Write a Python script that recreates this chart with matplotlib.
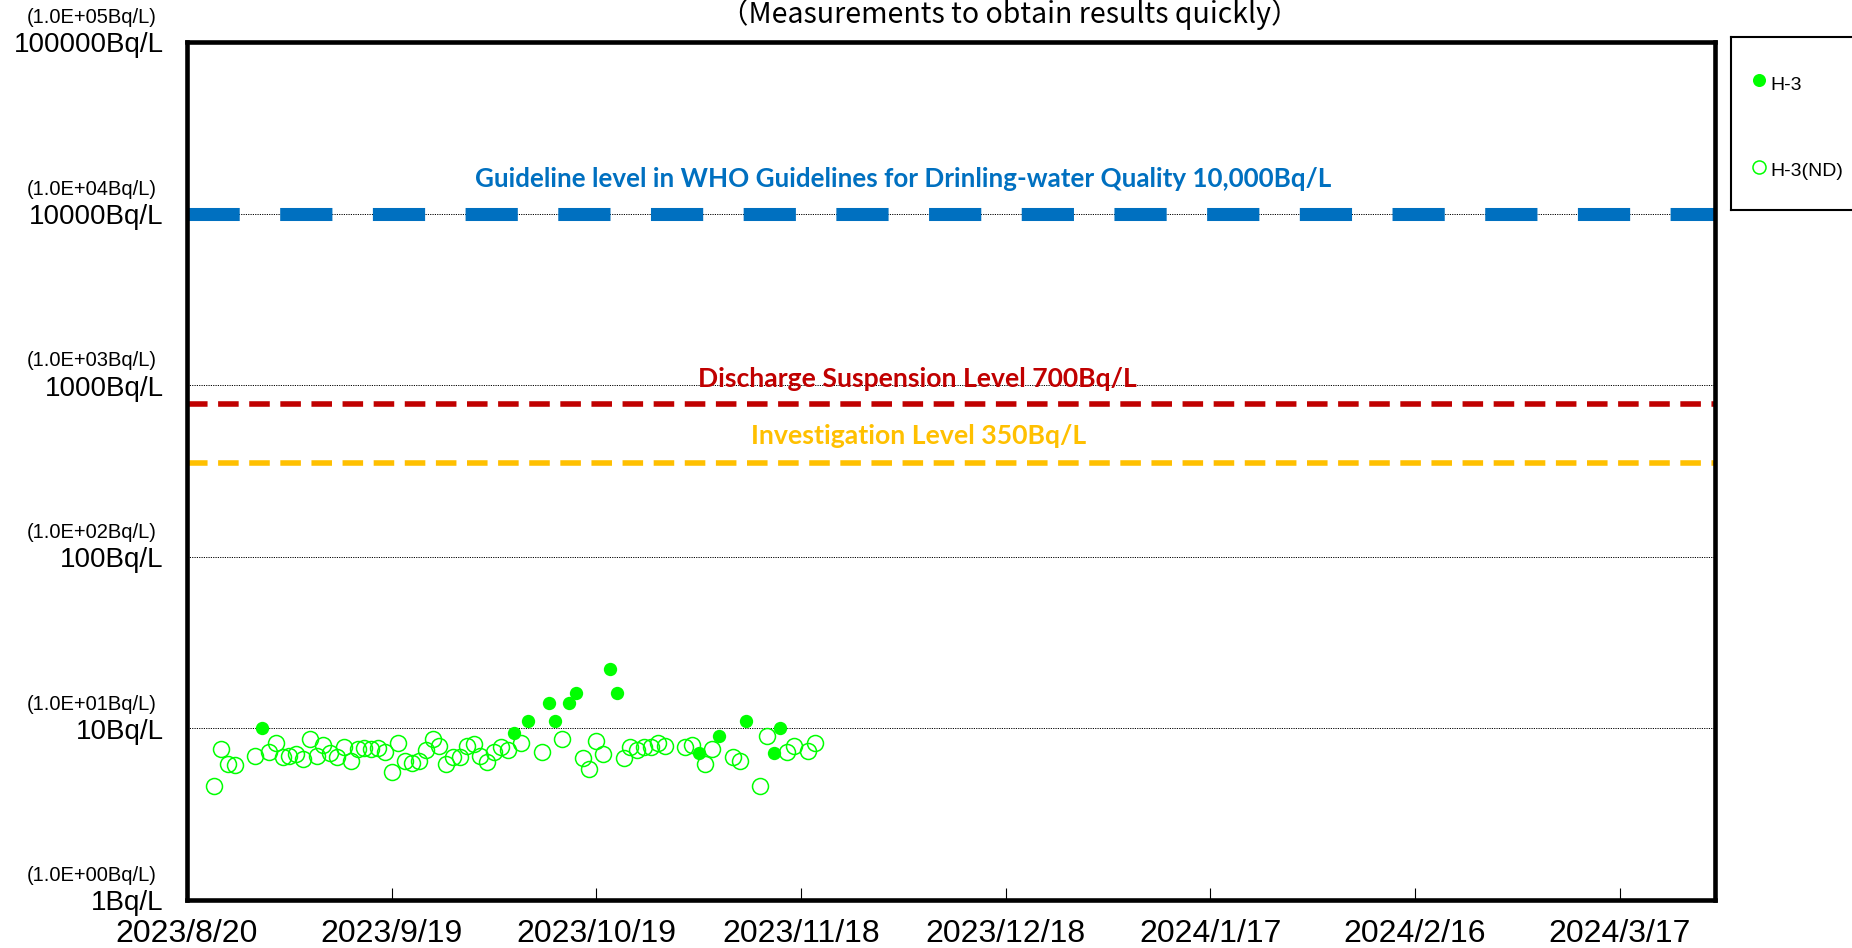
import matplotlib
matplotlib.use("Agg")
import matplotlib.pyplot as plt
import pandas as pd

# ---- data ----
# H-3 detected values [Bq/L]
h3_dates = ["2023-08-31", "2023-10-07", "2023-10-09", "2023-10-12", "2023-10-13",
            "2023-10-15", "2023-10-16", "2023-10-21", "2023-10-22", "2023-11-03",
            "2023-11-06", "2023-11-10", "2023-11-14", "2023-11-15"]
h3_values = [10.0, 9.4, 11.0, 14.1, 11.0, 14.0, 16.0, 22.1, 16.0, 7.2,
             9.0, 11.0, 7.2, 10.0]

# H-3 below detection limit (ND) -> detection limit plotted
nd_dates = ["2023-08-24", "2023-08-25", "2023-08-26", "2023-08-27", "2023-08-30",
            "2023-09-01", "2023-09-02", "2023-09-03", "2023-09-04", "2023-09-05",
            "2023-09-06", "2023-09-07", "2023-09-08", "2023-09-09", "2023-09-10",
            "2023-09-11", "2023-09-12", "2023-09-13", "2023-09-14", "2023-09-15",
            "2023-09-16", "2023-09-17", "2023-09-18", "2023-09-19", "2023-09-20",
            "2023-09-21", "2023-09-22", "2023-09-23", "2023-09-24", "2023-09-25",
            "2023-09-26", "2023-09-27", "2023-09-28", "2023-09-29", "2023-09-30",
            "2023-10-01", "2023-10-02", "2023-10-03", "2023-10-04", "2023-10-05",
            "2023-10-06", "2023-10-08", "2023-10-11", "2023-10-14", "2023-10-17",
            "2023-10-18", "2023-10-19", "2023-10-20", "2023-10-23", "2023-10-24",
            "2023-10-25", "2023-10-26", "2023-10-27", "2023-10-28", "2023-10-29",
            "2023-11-01", "2023-11-02", "2023-11-04", "2023-11-05", "2023-11-08",
            "2023-11-09", "2023-11-12", "2023-11-13", "2023-11-16", "2023-11-17",
            "2023-11-19", "2023-11-20"]
nd_values = [4.6, 7.6, 6.2, 6.1, 6.9,
             7.3, 8.2, 6.8, 6.9, 7.1,
             6.6, 8.7, 6.9, 8.0, 7.2,
             6.8, 7.8, 6.5, 7.6, 7.7,
             7.6, 7.7, 7.3, 5.6, 8.2,
             6.5, 6.3, 6.5, 7.5, 8.7,
             7.9, 6.2, 6.8, 6.8, 7.9,
             8.1, 6.9, 6.4, 7.3, 7.8,
             7.5, 8.2, 7.3, 8.7, 6.7,
             5.8, 8.5, 7.1, 6.7, 7.8,
             7.5, 7.8, 7.8, 8.2, 7.9,
             7.8, 8.0, 6.2, 7.6, 6.8,
             6.5, 4.6, 9.0, 7.3, 7.9,
             7.4, 8.2]

# reference levels
level_values = [10000, 780, 350]
level_texts = ["Guideline level in WHO Guidelines for Drinling-water Quality 10,000Bq/L",
               "Discharge Suspension Level 700Bq/L",
               "Investigation Level 350Bq/L"]

x_tick_dates = ["2023-08-20", "2023-09-19", "2023-10-19", "2023-11-18",
                "2023-12-18", "2024-01-17", "2024-02-16", "2024-03-17"]
x_tick_labels = ["2023/8/20", "2023/9/19", "2023/10/19", "2023/11/18",
                 "2023/12/18", "2024/1/17", "2024/2/16", "2024/3/17"]

y_tick_values = [1, 10, 100, 1000, 10000, 100000]
y_tick_big = ["1Bq/L", "10Bq/L", "100Bq/L", "1000Bq/L", "10000Bq/L", "100000Bq/L"]
y_tick_small = ["(1.0E+00Bq/L)", "(1.0E+01Bq/L)", "(1.0E+02Bq/L)",
                "(1.0E+03Bq/L)", "(1.0E+04Bq/L)", "(1.0E+05Bq/L)"]

x_start, x_end = "2023-08-20", "2024-03-31"

# ---- styles ----
plt.rcParams['font.family'] = ['Liberation Sans', 'DejaVu Sans']
GREEN = "#00FF00"
level_styles = [
    {'color': '#0070C0', 'lw': 9.4, 'dashes': (4.0, 3.1), 'fs': 18.75, 'dy': 25},
    {'color': '#C00000', 'lw': 4.0, 'dashes': (3.7, 1.9), 'fs': 19.1, 'dy': 18},
    {'color': '#FFC000', 'lw': 4.0, 'dashes': (3.7, 1.9), 'fs': 19.2, 'dy': 19.5},
]
level_text_x = [0.4686, 0.4777, 0.479]
label_font = ['Lato', 'Open Sans', 'DejaVu Sans']

W, H = 1852, 948
fig = plt.figure(figsize=(W / 100, H / 100), dpi=100)
ax = fig.add_axes([187 / W, 1 - 900 / H, (1715 - 187) / W, (900 - 42) / H])

ax.set_yscale('log')
ax.set_ylim(1, 1e5)
ax.set_xlim(pd.Timestamp(x_start), pd.Timestamp(x_end))

# grid lines (dotted)
ax.set_yticks(y_tick_values)
ax.set_yticklabels([])
ax.yaxis.set_minor_locator(matplotlib.ticker.NullLocator())
ax.tick_params(axis='y', length=0)
ax.grid(axis='y', which='major', color='black', lw=0.7, linestyle=(0, (1.2, 1.2)), zorder=0)
ax.set_axisbelow(True)

# reference levels
for val, txt, st, tx in zip(level_values, level_texts, level_styles, level_text_x):
    ax.axhline(val, color=st['color'], lw=st['lw'], dashes=st['dashes'],
               solid_capstyle='butt', dash_capstyle='butt', zorder=2)
    ax.annotate(txt, xy=(tx, val), xycoords=('axes fraction', 'data'),
                xytext=(0, st['dy']), textcoords='offset points',
                ha='center', va='center', fontsize=st['fs'], fontweight='bold',
                color=st['color'], family=label_font, zorder=3)

# data
ax.plot(pd.to_datetime(nd_dates), nd_values, 'o', ms=11.5, mfc='none',
        mec=GREEN, mew=1.1, zorder=4)
ax.plot(pd.to_datetime(h3_dates), h3_values, 'o', ms=9.6, mfc=GREEN,
        mec=GREEN, mew=0, zorder=5)

# x axis
ax.set_xticks(pd.to_datetime(x_tick_dates))
ax.set_xticklabels(x_tick_labels, fontsize=23)
ax.tick_params(axis='x', direction='in', length=9, width=0.8, pad=14)

for s in ax.spines.values():
    s.set_linewidth(3.3)

# y labels (two lines each)
for v, big, small in zip(y_tick_values, y_tick_big, y_tick_small):
    ax.annotate(big, xy=(0, v), xycoords=('axes fraction', 'data'),
                xytext=(-17, -2.5), textcoords='offset points',
                ha='right', va='center', fontsize=20)
    ax.annotate(small, xy=(0, v), xycoords=('axes fraction', 'data'),
                xytext=(-22, 17.5), textcoords='offset points',
                ha='right', va='center', fontsize=14.5)

# title (cut at top in the original)
fig.text(1010 / W, 1 - 14 / H, "（Measurements to obtain results quickly）",
         ha='center', va='center', fontsize=20.5,
         family=['Noto Sans CJK JP', 'DejaVu Sans'])

# legend box
lax = fig.add_axes([1731 / W, 1 - 210 / H, 140 / W, 173.3 / H])
lax.set_xlim(0, 1)
lax.set_ylim(0, 1)
lax.set_xticks([])
lax.set_yticks([])
for s in lax.spines.values():
    s.set_linewidth(1.5)
lax.plot([0.2], [0.75], 'o', ms=9.4, mfc=GREEN, mec=GREEN, mew=0)
lax.plot([0.2], [0.25], 'o', ms=9.4, mfc='none', mec=GREEN, mew=1.1)
lax.text(0.279, 0.72, "H-3", ha='left', va='center', fontsize=14)
lax.text(0.279, 0.22, "H-3(ND)", ha='left', va='center', fontsize=14)

fig.savefig("out.png", dpi=100)
